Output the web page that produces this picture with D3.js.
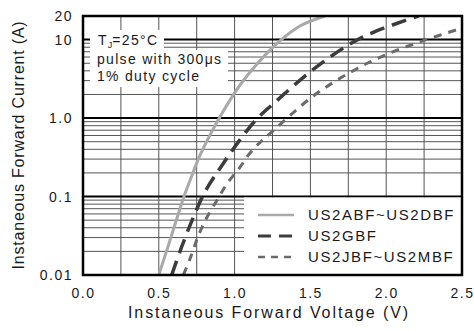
<!DOCTYPE html>
<html>
<head>
<meta charset="utf-8">
<script src="https://cdn.jsdelivr.net/npm/d3@7"></script>
<style>
  html, body { margin: 0; padding: 0; background: #fff; }
  svg { display: block; font-family: "Liberation Sans", Arial, sans-serif; }
</style>
</head>
<body>
<div id="app"></div>
<script>
// forward characteristics
const voltA = [0.50, 0.580, 0.660, 0.719, 0.772, 0.884, 0.976, 1.036, 1.135, 1.280, 1.431, 1.596];
const currA = [0.01, 0.0302, 0.0925, 0.187, 0.336, 0.889, 1.77, 2.64, 4.58, 8.93, 14.9, 20];

const voltG = [0.585, 0.651, 0.728, 0.805, 0.915, 1.036, 1.146, 1.255, 1.519, 1.761, 1.915, 2.212];
const currG = [0.01, 0.0229, 0.0544, 0.1153, 0.247, 0.531, 0.971, 1.52, 4.17, 8.81, 12.4, 20];

const voltJ = [0.662, 0.706, 0.761, 0.816, 0.892, 0.948, 1.036, 1.090, 1.146, 1.255, 1.519, 1.761, 1.981, 2.245, 2.5];
const currJ = [0.01, 0.0161, 0.0316, 0.0536, 0.095, 0.1445, 0.2366, 0.3365, 0.4452, 0.693, 1.91, 3.81, 6.22, 9.70, 14.0];

const seriesNames = ["US2ABF~US2DBF", "US2GBF", "US2JBF~US2MBF"];
const xTicks = [0, 0.5, 1.0, 1.5, 2.0, 2.5];
const yTicks = [20, 10, 1, 0.1, 0.01];
const yTickLabels = ["20", "10", "1.0", "0.1", "0.01"];

const width = 474;
const height = 331;
const margin = { top: 16, right: 12, bottom: 56, left: 83 };

const x = d3.scaleLinear().domain([0, 2.5]).range([margin.left, width - margin.right]);
const y = d3.scaleLog().domain([0.01, 20]).range([height - margin.bottom, margin.top]);

const styles = [
  { color: "#a9a9a9", width: 3, dash: null },
  { color: "#3c3c3c", width: 3.5, dash: "15,8" },
  { color: "#6b6b6b", width: 3, dash: "8,7" },
];

const series = [
  d3.zip(voltA, currA),
  d3.zip(voltG, currG),
  d3.zip(voltJ, currJ),
];

const svg = d3.select("#app").append("svg")
  .attr("width", width)
  .attr("height", height);

// grid
const grid = svg.append("g");
d3.range(0.25, 2.5, 0.25).forEach(v => {
  grid.append("line")
    .attr("x1", x(v)).attr("x2", x(v))
    .attr("y1", margin.top).attr("y2", height - margin.bottom)
    .attr("stroke", "#555").attr("stroke-width", 1);
});
const minors = [];
[0.01, 0.1, 1, 10].forEach(dec => {
  for (let k = 2; k <= 9; k++) {
    const v = k * dec;
    if (v < 20) minors.push(v);
  }
});
minors.forEach(v => {
  grid.append("line")
    .attr("x1", margin.left).attr("x2", width - margin.right)
    .attr("y1", y(v)).attr("y2", y(v))
    .attr("stroke", "#555").attr("stroke-width", 1);
});
[0.1, 1, 10].forEach(v => {
  grid.append("line")
    .attr("x1", margin.left).attr("x2", width - margin.right)
    .attr("y1", y(v)).attr("y2", y(v))
    .attr("stroke", "#000").attr("stroke-width", 2);
});

// curves
const line = d3.line()
  .x(d => x(d[0]))
  .y(d => y(d[1]))
  .curve(d3.curveCatmullRom.alpha(0.5));

svg.append("clipPath").attr("id", "plot")
  .append("rect")
  .attr("x", margin.left).attr("y", margin.top)
  .attr("width", width - margin.left - margin.right)
  .attr("height", height - margin.top - margin.bottom);

series.forEach((s, i) => {
  svg.append("path")
    .datum(s)
    .attr("clip-path", "url(#plot)")
    .attr("fill", "none")
    .attr("stroke", styles[i].color)
    .attr("stroke-width", styles[i].width)
    .attr("stroke-dasharray", styles[i].dash)
    .attr("d", line);
});

// annotation
svg.append("rect").attr("x", 90).attr("y", 30).attr("width", 74).attr("height", 20).attr("fill", "#fff");
svg.append("rect").attr("x", 90).attr("y", 50).attr("width", 138).attr("height", 37).attr("fill", "#fff");

const note = svg.append("g")
  .style("font-size", "14px")
  .style("letter-spacing", "1.3px")
  .style("fill", "#1a1a1a");
const tj = note.append("text").attr("x", 98).attr("y", 45);
tj.append("tspan").text("T");
tj.append("tspan").attr("dy", 3).style("font-size", "9px").style("letter-spacing", "0px").text("J");
tj.append("tspan").attr("dy", -3).text("=25°C");
note.append("text").attr("x", 97).attr("y", 64).text("pulse with 300μs");
note.append("text").attr("x", 97).attr("y", 81).text("1% duty cycle");

// legend
svg.append("rect")
  .attr("x", 244).attr("y", y(0.1) + 1)
  .attr("width", width - margin.right - 244)
  .attr("height", height - margin.bottom - y(0.1) - 1)
  .attr("fill", "#fff");

const legend = svg.append("g");
seriesNames.forEach((name, i) => {
  const ly = 215 + i * 21;
  legend.append("line")
    .attr("x1", 258).attr("x2", 294)
    .attr("y1", ly).attr("y2", ly)
    .attr("stroke", styles[i].color)
    .attr("stroke-width", styles[i].width - 0.5)
    .attr("stroke-dasharray", i === 1 ? "13,8" : i === 2 ? "7,6" : null);
  legend.append("text")
    .attr("x", 308).attr("y", ly + 5)
    .style("font-size", "15px")
    .style("letter-spacing", "1.6px")
    .style("fill", "#1a1a1a")
    .text(name);
});

// frame
svg.append("rect")
  .attr("x", margin.left).attr("y", margin.top)
  .attr("width", width - margin.left - margin.right)
  .attr("height", height - margin.top - margin.bottom)
  .attr("fill", "none")
  .attr("stroke", "#000")
  .attr("stroke-width", 2.5);

// axes
const xAxis = svg.append("g")
  .attr("transform", `translate(0, ${height - margin.bottom})`)
  .call(d3.axisBottom(x).tickValues(xTicks).tickSize(0).tickPadding(13).tickFormat(d3.format(".1f")));
const yAxis = svg.append("g")
  .attr("transform", `translate(${margin.left}, 0)`)
  .call(d3.axisLeft(y).tickValues(yTicks).tickSize(0).tickPadding(10).tickFormat((d, i) => yTickLabels[i]));

[xAxis, yAxis].forEach(a => {
  a.select(".domain").remove();
  a.selectAll("text")
    .style("font-size", "14px")
    .style("letter-spacing", "1.5px")
    .style("font-family", "'Liberation Sans', Arial, sans-serif")
    .style("fill", "#1a1a1a");
});

svg.append("text")
  .attr("x", (127 + 411) / 2)
  .attr("y", 318)
  .attr("text-anchor", "middle")
  .style("font-size", "16px")
  .style("letter-spacing", "1.9px")
  .style("fill", "#1a1a1a")
  .text("Instaneous Forward Voltage (V)");

svg.append("text")
  .attr("transform", "rotate(-90)")
  .attr("x", -145)
  .attr("y", 24)
  .attr("text-anchor", "middle")
  .style("font-size", "16px")
  .style("letter-spacing", "0.8px")
  .style("fill", "#1a1a1a")
  .text("Instaneous Forward Current (A)");
</script>
</body>
</html>
